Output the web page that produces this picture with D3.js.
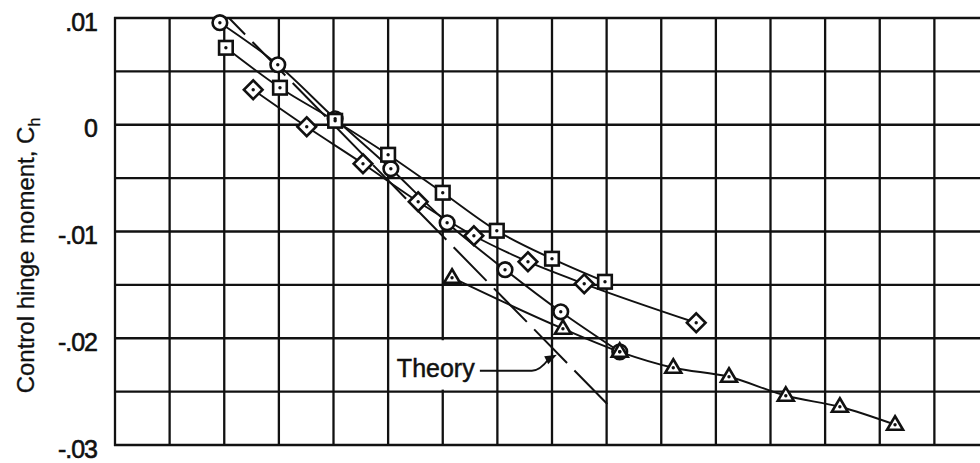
<!DOCTYPE html>
<html><head><meta charset="utf-8">
<script src="https://cdn.jsdelivr.net/npm/d3@7"></script>
<style>html,body{margin:0;padding:0;background:#fff;} svg{display:block;}</style>
</head><body>
<svg id="chart" width="980" height="463"></svg>
<script>
// ---- data (x in grid units, y = hinge-moment coefficient Ch) ----
const yTickValues = [0.01, 0, -0.01, -0.02, -0.03];
const yTickLabels = [".01", "0", "-.01", "-.02", "-.03"];
const xGridValues = d3.range(0, 17, 1);
const yGridValues = [0.01, 0.005, 0, -0.005, -0.01, -0.015, -0.02, -0.025, -0.03];

const circleX = [1.92, 2.98, 4.03, 5.05, 6.08, 7.14, 8.16, 9.24];
const circleY = [0.00956, 0.00562, 0.00056, -0.00412, -0.00918, -0.01358, -0.01752, -0.02127];

const squareX = [2.03, 3.02, 4.03, 5.00, 6.00, 6.99, 8.00, 8.97];
const squareY = [0.00721, 0.00347, 0.00037, -0.00281, -0.00637, -0.00993, -0.01255, -0.01471];

const diamondX = [2.53, 3.51, 4.54, 5.55, 6.57, 7.56, 8.59, 10.64];
const diamondY = [0.00328, -0.00019, -0.00365, -0.00721, -0.0104, -0.01283, -0.0149, -0.01855];

const triangleX = [6.17, 8.20, 9.24, 10.22, 11.24, 12.28, 13.27, 14.28];
const triangleY = [-0.01433, -0.01911, -0.02127, -0.02276, -0.02361, -0.02539, -0.02642, -0.0281];

const theoryX = [2.087, 9.025];
const theoryY = [0.01, -0.02623];

const yTitle = "Control hinge moment, C";
const yTitleSub = "h";
const theoryLabel = "Theory";
const theoryLabelPos = [5.16, -0.02361];
const theoryArrowTip = [8.09, -0.02155];

// ---- chart ----
const svg = d3.select("#chart");
const FONT = "'Liberation Sans', Arial, Helvetica, sans-serif";
const x = d3.scaleLinear().domain([0, 16]).range([115, 989]);
const y = d3.scaleLinear().domain([-0.03, 0.01]).range([445, 18]);

const zip = (xs, ys) => xs.map((v, i) => [v, ys[i]]);

// grid
const grid = svg.append("g").attr("stroke", "#111").attr("stroke-width", 2.3).attr("fill", "none");
grid.selectAll("line.v").data(xGridValues).join("line").attr("class", "v")
  .attr("x1", d => x(d)).attr("x2", d => x(d))
  .attr("y1", y(0.01) - 1).attr("y2", y(-0.03) + 1);
grid.selectAll("line.h").data(yGridValues).join("line").attr("class", "h")
  .attr("x1", x(0) - 1).attr("x2", x(16))
  .attr("y1", d => y(d)).attr("y2", d => y(d));

// y axis labels
const yAxis = d3.axisLeft(y).tickValues(yTickValues)
  .tickFormat((d, i) => yTickLabels[i]).tickSize(0).tickPadding(18);
const ag = svg.append("g").attr("transform", `translate(${x(0)},4)`).call(yAxis);
ag.select(".domain").remove();
ag.selectAll("text").attr("font-family", FONT).attr("font-size", 25)
  .attr("letter-spacing", -1).attr("fill", "#111")
  .attr("stroke", "#111").attr("stroke-width", 0.6);

// y title
const tt = svg.append("text")
  .attr("transform", `translate(34,${(y(0.01) + y(-0.03)) / 2 + 24}) rotate(-90)`)
  .attr("text-anchor", "middle")
  .attr("font-family", FONT).attr("font-size", 24).attr("fill", "#111")
  .attr("stroke", "#111").attr("stroke-width", 0.3);
tt.append("tspan").text(yTitle);
tt.append("tspan").text(yTitleSub).attr("font-size", 16).attr("dy", 6);

// white box behind Theory label
svg.append("rect")
  .attr("x", x(0) + 276).attr("y", y(-0.02) + 2)
  .attr("width", 103).attr("height", y(-0.025) - y(-0.02) - 4)
  .attr("fill", "#fff");

// theory line
const line = d3.line().x(d => x(d[0])).y(d => y(d[1]));
svg.append("path").datum(zip(theoryX, theoryY))
  .attr("d", line).attr("fill", "none").attr("stroke", "#111")
  .attr("stroke-width", 2).attr("stroke-dasharray", "47 10.5").attr("stroke-dashoffset", 24);

// data curves
const curve = d3.line().x(d => x(d[0])).y(d => y(d[1])).curve(d3.curveMonotoneX);
const seriesData = [zip(circleX, circleY), zip(squareX, squareY), zip(diamondX, diamondY), zip(triangleX, triangleY)];
svg.append("g").selectAll("path").data(seriesData).join("path")
  .attr("d", curve).attr("fill", "none").attr("stroke", "#111").attr("stroke-width", 1.9);

// markers
const mk = svg.append("g").attr("stroke", "#111").attr("stroke-width", 2.6).attr("fill", "#fff");
function dots(data) {
  svg.append("g").selectAll("circle").data(data).join("circle")
    .attr("cx", d => x(d[0])).attr("cy", d => y(d[1])).attr("r", 1.7).attr("fill", "#111");
}
mk.append("g").selectAll("circle").data(zip(circleX, circleY)).join("circle")
  .attr("cx", d => x(d[0])).attr("cy", d => y(d[1])).attr("r", 7.3);
mk.append("g").selectAll("rect").data(zip(squareX, squareY)).join("rect")
  .attr("x", d => x(d[0]) - 6.8).attr("y", d => y(d[1]) - 6.8).attr("width", 13.6).attr("height", 13.6);
mk.append("g").selectAll("rect").data(zip(diamondX, diamondY)).join("rect")
  .attr("x", -6.6).attr("y", -6.6).attr("width", 13.2).attr("height", 13.2)
  .attr("transform", d => `translate(${x(d[0])},${y(d[1])}) rotate(45)`);
mk.append("g").selectAll("path").data(zip(triangleX, triangleY)).join("path")
  .attr("d", "M0,-8.5 L8,5 L-8,5 Z")
  .attr("transform", d => `translate(${x(d[0])},${y(d[1])})`);
dots(zip(circleX, circleY));
dots(zip(squareX, squareY));
dots(zip(diamondX, diamondY));
dots(zip(triangleX, triangleY));

// Theory annotation
const lx = x(theoryLabelPos[0]), ly = y(theoryLabelPos[1]);
svg.append("text").attr("x", lx).attr("y", ly)
  .attr("font-family", FONT).attr("font-size", 25).attr("fill", "#111")
  .attr("stroke", "#111").attr("stroke-width", 0.5).text(theoryLabel);
const tx = x(theoryArrowTip[0]), ty = y(theoryArrowTip[1]);
const ax0 = lx + 83, ay0 = ly - 6;
svg.append("path")
  .attr("d", `M${ax0},${ay0} L${ax0 + 52},${ay0} Q${ax0 + 60},${ay0} ${tx - 8},${ty + 4}`)
  .attr("fill", "none").attr("stroke", "#111").attr("stroke-width", 1.9);
const ang = Math.atan2((ty) - (ty + 4), tx - (tx - 8));
svg.append("path")
  .attr("d", "M0,0 L-12,-4.5 L-12,4.5 Z")
  .attr("transform", `translate(${tx},${ty}) rotate(${ang * 180 / Math.PI})`)
  .attr("fill", "#111");
</script>
</body></html>
